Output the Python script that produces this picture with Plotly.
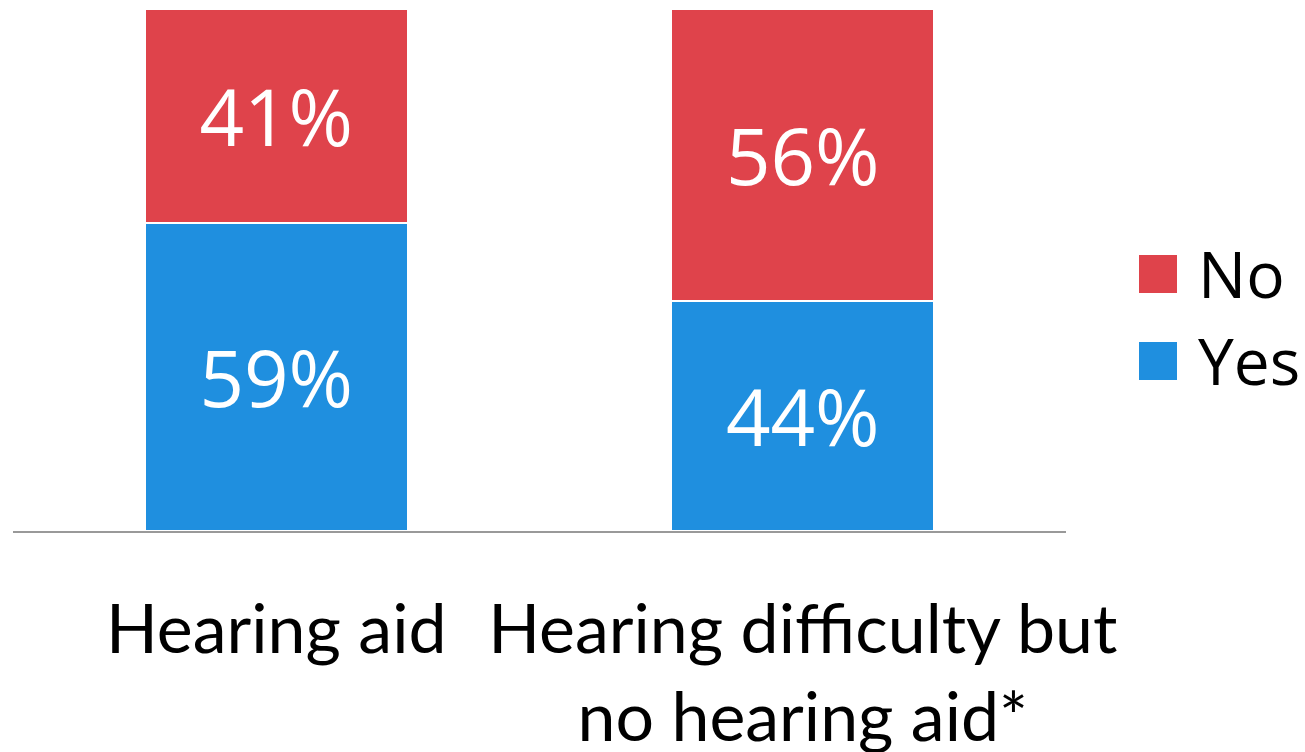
import plotly.graph_objects as go

# Survey responses by group (percent)
categories = ["Hearing aid", "Hearing difficulty but<br>no hearing aid*"]
yes_values = [59, 44]
no_values = [41, 56]
series_names = ["Yes", "No"]

RED = "#DF434B"
BLUE = "#1F8FDF"
FONT = "Open Sans"
TICK_FONT = "Lato"

W, H = 1305, 752
M_L, M_R, M_T, M_B = 13, 239, 9, 221

fig = go.Figure()
for name, vals, color in [(series_names[0], yes_values, BLUE), (series_names[1], no_values, RED)]:
    fig.add_trace(go.Bar(
        x=categories,
        y=vals,
        name=name,
        marker=dict(color=color, line=dict(color="white", width=2)),
        texttemplate="%{y}%",
        textposition="inside",
        insidetextanchor="middle",
        textfont=dict(family=FONT, size=78, color="white"),
        showlegend=False,
    ))

# Custom legend with large square swatches
plot_w = W - M_L - M_R
plot_h = H - M_T - M_B


def px_x(px):
    return (px - M_L) / plot_w


def px_y(py):
    return (H - M_B - py) / plot_h


legend_items = [("No", RED, 255, 293, 273), ("Yes", BLUE, 342, 380, 360)]
for label, color, top, bot, mid in legend_items:
    fig.add_shape(type="rect", xref="paper", yref="paper",
                  x0=px_x(1139), x1=px_x(1177), y0=px_y(bot), y1=px_y(top),
                  fillcolor=color, line=dict(width=0))
    fig.add_annotation(xref="paper", yref="paper", x=px_x(1196), y=px_y(mid),
                       text=label, showarrow=False, xanchor="left", yanchor="middle",
                       font=dict(family=FONT, size=64, color="black"))

fig.update_layout(
    barmode="stack",
    bargap=0.5,
    width=W,
    height=H,
    margin=dict(l=M_L, r=M_R, t=M_T, b=M_B),
    paper_bgcolor="white",
    plot_bgcolor="white",
    font=dict(family=FONT, color="black"),
    xaxis=dict(
        showline=True, linecolor="#999999", linewidth=2,
        showgrid=False, ticks="", automargin=False,
        tickfont=dict(family=TICK_FONT, size=68, color="black"),
        ticklabelstandoff=38,
    ),
    yaxis=dict(range=[0, 100], visible=False, showgrid=False),
)

fig.write_html("out.html")
